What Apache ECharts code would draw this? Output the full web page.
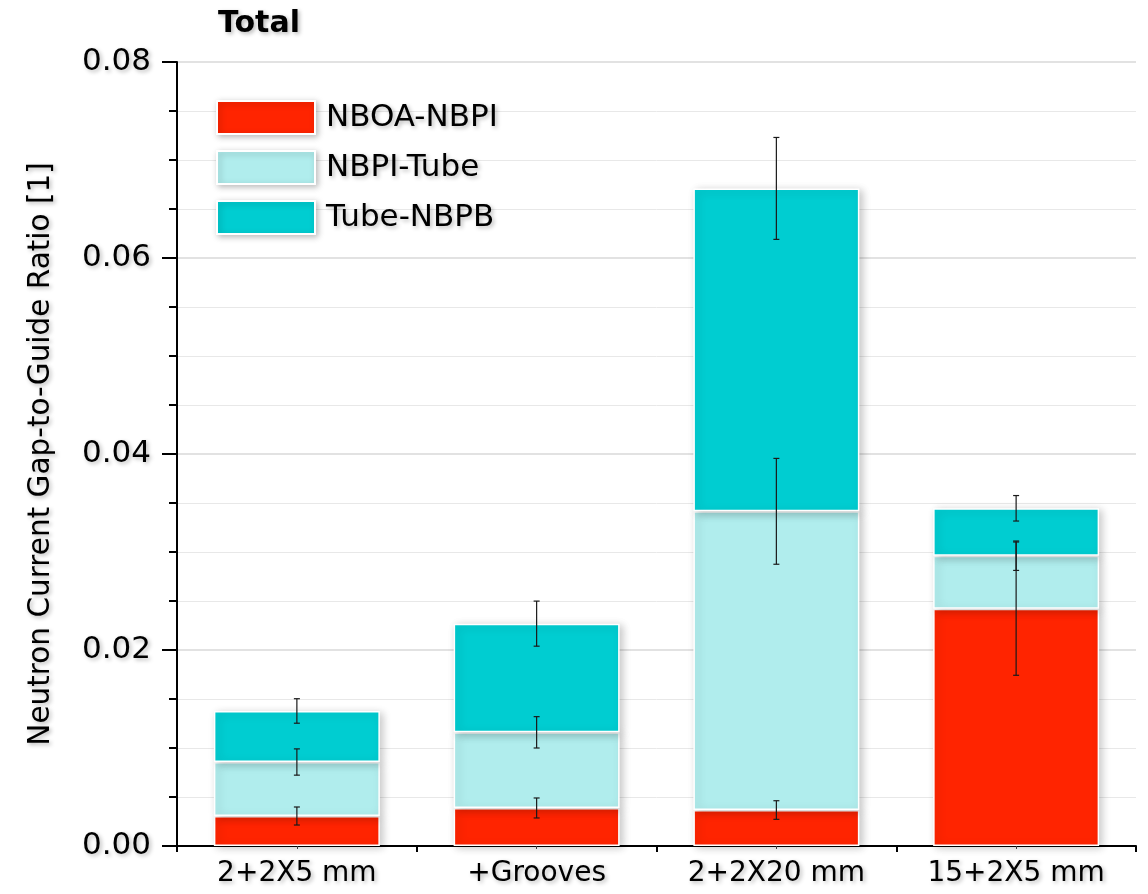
<!DOCTYPE html>
<html>
<head>
<meta charset="utf-8">
<script src="https://cdn.jsdelivr.net/npm/echarts@6/dist/echarts.min.js"></script>
<style>
html,body{margin:0;padding:0;background:#fff;}
#chart{width:1148px;height:894px;}
</style>
</head>
<body>
<div id="chart"></div>
<script>
// ---- data ----
const categories = ['2+2X5 mm', '+Grooves', '2+2X20 mm', '15+2X5 mm'];
const seriesNames = ['NBOA-NBPI', 'NBPI-Tube', 'Tube-NBPB'];
const nboaNbpi = [0.00306, 0.00388, 0.00367, 0.02422];
const nbpiTube = [0.00551, 0.00772, 0.03048, 0.00540];
const tubeNbpb = [0.00521, 0.01109, 0.03295, 0.00484];
const errNboaNbpi = [0.00092, 0.00102, 0.00095, 0.0068];
const errNbpiTube = [0.00134, 0.0016, 0.0054, 0.0015];
const errTubeNbpb = [0.00125, 0.0023, 0.0052, 0.0013];
const yTicks = [0, 0.02, 0.04, 0.06, 0.08];

const colors = ['#ff2400', '#b0eded', '#00cdd1'];
const values = [nboaNbpi, nbpiTube, tubeNbpb];
const errs = [errNboaNbpi, errNbpiTube, errTubeNbpb];

const font = '"DejaVu Sans", sans-serif';
const txtShadow = {textShadowColor:'rgba(0,0,0,0.28)', textShadowBlur:4, textShadowOffsetX:2, textShadowOffsetY:2};

// cumulative tops for error bars
const errData = [];
const cum = categories.map(() => 0);
values.forEach((arr, s) => {
  arr.forEach((v, i) => {
    cum[i] += v;
    errData.push([i, cum[i] - errs[s][i], cum[i] + errs[s][i]]);
  });
});

const barSeries = values.map((arr, s) => ({
  name: seriesNames[s],
  type: 'bar',
  stack: 'total',
  barWidth: 166,
  data: arr,
  itemStyle: {
    color: colors[s],
    borderColor: '#ffffff',
    borderWidth: 1.5,
    shadowColor: 'rgba(0,0,0,0.22)',
    shadowBlur: 8,
    shadowOffsetX: 3,
    shadowOffsetY: 2
  },
  z: 2,
  animation: false
}));

const errSeries = {
  type: 'custom',
  name: 'err',
  data: errData,
  z: 10,
  silent: true,
  animation: false,
  renderItem: function (params, api) {
    const x = api.value(0);
    const lo = api.coord([x, api.value(1)]);
    const hi = api.coord([x, api.value(2)]);
    const hw = 3;
    const style = {stroke: '#1a1a1a', lineWidth: 1.2};
    return {
      type: 'group',
      children: [
        {type: 'line', shape: {x1: lo[0], y1: lo[1], x2: hi[0], y2: hi[1]}, style: style},
        {type: 'line', shape: {x1: lo[0]-hw, y1: lo[1], x2: lo[0]+hw, y2: lo[1]}, style: style},
        {type: 'line', shape: {x1: hi[0]-hw, y1: hi[1], x2: hi[0]+hw, y2: hi[1]}, style: style}
      ]
    };
  }
};

const chart = echarts.init(document.getElementById('chart'), null, {renderer: 'canvas'});
chart.setOption({
  backgroundColor: '#ffffff',
  animation: false,
  title: {
    text: 'Total',
    left: 213,
    top: 4,
    textStyle: Object.assign({fontFamily: font, fontSize: 30, fontWeight: 'bold', color: '#000'}, txtShadow)
  },
  legend: {
    data: seriesNames,
    orient: 'vertical',
    left: 216,
    top: 100,
    padding: 0,
    itemWidth: 98,
    itemHeight: 33,
    itemGap: 15,
    icon: 'rect',
    textStyle: Object.assign({fontFamily: font, fontSize: 31, color: '#000', padding: [0,0,0,6]}, txtShadow),
    itemStyle: {borderColor: '#fff', borderWidth: 2, shadowColor: 'rgba(0,0,0,0.25)', shadowBlur: 6, shadowOffsetX: 2, shadowOffsetY: 2}
  },
  grid: {left: 177, right: 12, top: 62, bottom: 48, containLabel: false},
  xAxis: [{
    type: 'category',
    data: categories,
    axisLine: {lineStyle: {color: '#000', width: 2}},
    axisTick: {show: true, alignWithLabel: false, length: 6, lineStyle: {color: '#000', width: 2}},
    axisLabel: Object.assign({fontFamily: font, fontSize: 28, color: '#000', margin: 14}, txtShadow),
    splitLine: {show: false}
  }, {
    type: 'category',
    data: categories,
    position: 'bottom',
    axisLine: {show: false},
    axisTick: {show: true, alignWithLabel: true, length: 3, lineStyle: {color: '#444', width: 1}},
    axisLabel: {show: false},
    splitLine: {show: false}
  }],
  yAxis: {
    type: 'value',
    min: 0,
    max: 0.08,
    interval: 0.02,
    name: 'Neutron Current Gap-to-Guide Ratio [1]',
    nameLocation: 'middle',
    nameGap: 121,
    nameRotate: 90,
    nameTextStyle: Object.assign({fontFamily: font, fontSize: 29.5, color: '#000'}, txtShadow),
    axisLine: {show: true, lineStyle: {color: '#000', width: 2}},
    axisTick: {show: true, inside: false, length: 15, lineStyle: {color: '#000', width: 2}},
    minorTick: {show: true, splitNumber: 4, length: 8, lineStyle: {color: '#000', width: 2}},
    axisLabel: Object.assign({fontFamily: font, fontSize: 31, color: '#000', margin: 26,
      formatter: v => yTicks.indexOf(v) >= 0 ? v.toFixed(2) : ''}, txtShadow),
    splitLine: {show: true, lineStyle: {color: '#d8d8d8', width: 1.5}},
    minorSplitLine: {show: true, lineStyle: {color: '#e8e8e8', width: 1}}
  },
  series: barSeries.concat([errSeries])
});
</script>
</body>
</html>
